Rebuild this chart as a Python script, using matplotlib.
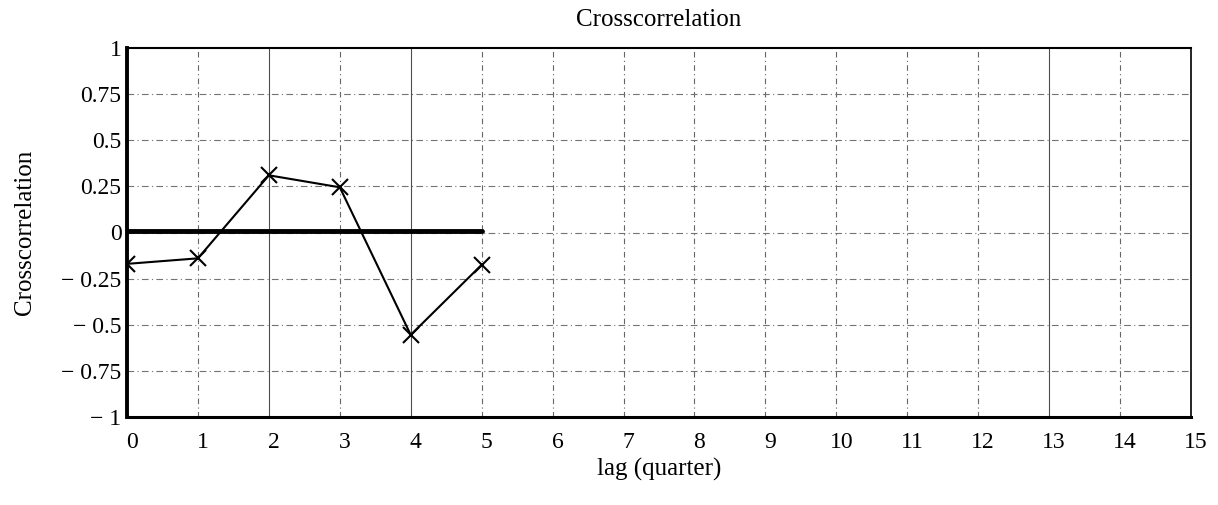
import numpy as np
import matplotlib.pyplot as plt
import matplotlib.transforms as mtransforms

plt.rcParams['font.family'] = ['Liberation Serif', 'DejaVu Serif']

# Daten
lags = [0, 1, 2, 3, 4, 5]
xcorr = [-0.17, -0.14, 0.31, 0.245, -0.555, -0.175]
zero_line_x = [0, 5]
zero_line_y = [0.01, 0.01]

x_ticks = list(range(0, 16))
y_ticks = [-1, -0.75, -0.5, -0.25, 0, 0.25, 0.5, 0.75, 1]
y_labels = ['− 1', '− 0.75', '− 0.5', '− 0.25', '0', '0.25', '0.5', '0.75', '1']

fig = plt.figure(figsize=(12.18, 5.05), dpi=100)
ax = fig.add_axes([127 / 1218, 1 - 417 / 505, (1191 - 127) / 1218, (417 - 48) / 505])

# Gitter (gestrichelt, wie im Scan)
solid_x = {2, 4, 13}
for xv in x_ticks[1:-1]:
    if xv in solid_x:
        ax.axvline(xv, color='0.3', lw=0.8, zorder=1)
    else:
        ax.axvline(xv, color='0.4', lw=0.8, ls=(0, (5, 3, 1, 3)), zorder=1)
for yv in y_ticks[1:-1]:
    ax.axhline(yv, color='0.45', lw=0.8, ls=(0, (6, 3, 1, 3)), zorder=1)

ax.plot(zero_line_x, zero_line_y, color='black', lw=3.5, solid_capstyle='round', zorder=2)
ax.plot(lags, xcorr, color='black', lw=1.5, marker='x', markersize=11,
        markeredgewidth=1.5, zorder=3)

ax.set_xlim(0, 15)
ax.set_ylim(-1, 1)
ax.set_xticks(x_ticks)
ax.set_xticklabels([str(v) for v in x_ticks], fontsize=17)
ax.set_yticks(y_ticks)
ax.set_yticklabels(y_labels, fontsize=17)
ax.tick_params(axis='x', length=0, pad=11)
ax.tick_params(axis='y', length=0, pad=4)

# x-Beschriftungen leicht nach rechts versetzt
shift = mtransforms.ScaledTranslation(5 / 100, 0, fig.dpi_scale_trans)
for lbl in ax.get_xticklabels():
    lbl.set_transform(lbl.get_transform() + shift)

ax.spines['left'].set_linewidth(2.8)
ax.spines['bottom'].set_linewidth(2.2)
ax.spines['top'].set_linewidth(1.5)
ax.spines['right'].set_linewidth(1.2)

ax.set_title('Crosscorrelation', fontsize=18, pad=16)
ax.set_xlabel('lag (quarter)', fontsize=18, labelpad=3)
ax.set_ylabel('Crosscorrelation', fontsize=18, labelpad=18)

fig.savefig('out.png', dpi=100)
